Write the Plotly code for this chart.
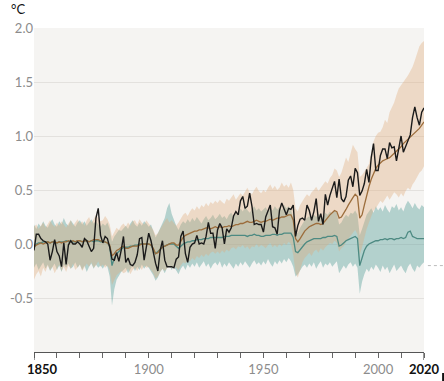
import plotly.graph_objects as go

years = list(range(1850, 2021))

observed = [
    -0.06, 0.09, 0.09, 0.05, 0.03, 0.02, 0.00, -0.15, -0.07, 0.04,
    -0.07, -0.11, -0.21, 0.01, -0.19, -0.01, 0.03, 0.00, 0.00, 0.02,
    0.00, -0.03, 0.05, 0.03, -0.02, -0.07, -0.04, 0.24, 0.33, 0.08,
    0.01, 0.07, 0.05, -0.03, -0.14, -0.15, -0.08, -0.16, -0.06, 0.07,
    -0.17, -0.13, -0.19, -0.20, -0.17, -0.10, 0.05, 0.06, -0.15, -0.03,
    0.10, 0.03, -0.09, -0.18, -0.25, -0.06, 0.03, -0.15, -0.21, -0.21,
    -0.21, -0.22, -0.14, -0.12, 0.07, 0.12, -0.09, -0.17, -0.03, 0.00,
    0.01, 0.08, 0.00, 0.01, 0.00, 0.07, 0.20, 0.10, 0.10, -0.04,
    0.13, 0.19, 0.15, 0.00, 0.14, 0.11, 0.15, 0.26, 0.30, 0.27,
    0.40, 0.44, 0.33, 0.35, 0.47, 0.35, 0.18, 0.19, 0.18, 0.18,
    0.11, 0.25, 0.30, 0.36, 0.16, 0.15, 0.09, 0.31, 0.38, 0.32,
    0.27, 0.33, 0.32, 0.36, 0.07, 0.17, 0.23, 0.24, 0.22, 0.36,
    0.31, 0.22, 0.30, 0.42, 0.21, 0.28, 0.18, 0.46, 0.36, 0.45,
    0.52, 0.58, 0.43, 0.60, 0.42, 0.39, 0.44, 0.59, 0.63, 0.53,
    0.70, 0.66, 0.45, 0.49, 0.56, 0.69, 0.57, 0.80, 0.93, 0.68,
    0.68, 0.82, 0.88, 0.88, 0.79, 0.94, 0.89, 0.90, 0.77, 0.90,
    1.00, 0.85, 0.90, 0.95, 1.01, 1.17, 1.27, 1.17, 1.10, 1.22,
    1.26,
]

sim_human_natural = [
    -0.03, -0.01, 0.00, 0.01, 0.00, 0.01, 0.02, 0.01, 0.02, 0.02,
    0.01, 0.02, 0.01, 0.02, 0.02, 0.03, 0.02, 0.03, 0.02, 0.03,
    0.03, 0.02, 0.03, 0.03, 0.02, 0.03, 0.04, 0.04, 0.04, 0.03,
    0.02, 0.02, 0.01, -0.01, -0.11, -0.09, -0.06, -0.05, -0.03, -0.02,
    -0.04, -0.04, -0.03, -0.02, -0.02, -0.02, -0.01, 0.00, 0.00, 0.00,
    0.00, -0.01, -0.04, -0.09, -0.08, -0.05, -0.03, -0.02, -0.01, 0.00,
    0.01, 0.01, -0.01, -0.01, 0.03, 0.06, 0.08, 0.09, 0.10, 0.11,
    0.12, 0.12, 0.13, 0.13, 0.14, 0.15, 0.15, 0.14, 0.15, 0.16,
    0.15, 0.16, 0.15, 0.16, 0.16, 0.17, 0.16, 0.17, 0.18, 0.18,
    0.19, 0.19, 0.20, 0.21, 0.20, 0.20, 0.21, 0.22, 0.21, 0.20,
    0.21, 0.21, 0.22, 0.23, 0.22, 0.23, 0.24, 0.24, 0.25, 0.25,
    0.26, 0.27, 0.27, 0.22, 0.05, 0.02, 0.05, 0.09, 0.12, 0.14,
    0.16, 0.17, 0.18, 0.19, 0.19, 0.18, 0.19, 0.22, 0.25, 0.27,
    0.29, 0.31, 0.30, 0.24, 0.25, 0.28, 0.32, 0.36, 0.40, 0.43,
    0.46, 0.44, 0.24, 0.27, 0.36, 0.46, 0.53, 0.60, 0.66, 0.70,
    0.73, 0.75, 0.77, 0.78, 0.79, 0.80, 0.82, 0.84, 0.86, 0.88,
    0.90, 0.93, 0.95, 0.97, 0.99, 1.01, 1.03, 1.05, 1.07, 1.10,
    1.13,
]

sim_human_natural_hi = [
    0.16, 0.18, 0.14, 0.17, 0.20, 0.15, 0.19, 0.22, 0.18, 0.16,
    0.20, 0.17, 0.21, 0.18, 0.15, 0.19, 0.22, 0.17, 0.20, 0.23,
    0.19, 0.21, 0.17, 0.22, 0.25, 0.20, 0.23, 0.27, 0.24, 0.21,
    0.22, 0.26, 0.23, 0.18, 0.07, 0.11, 0.15, 0.13, 0.17, 0.19,
    0.16, 0.20, 0.17, 0.21, 0.22, 0.18, 0.23, 0.20, 0.18, 0.22,
    0.19, 0.17, 0.13, 0.08, 0.10, 0.14, 0.18, 0.21, 0.24, 0.20,
    0.22, 0.19, 0.17, 0.20, 0.24, 0.27, 0.29, 0.26, 0.30, 0.33,
    0.31, 0.35, 0.32, 0.36, 0.34, 0.38, 0.35, 0.39, 0.37, 0.40,
    0.38, 0.41, 0.39, 0.37, 0.42, 0.40, 0.43, 0.46, 0.41, 0.44,
    0.47, 0.45, 0.49, 0.52, 0.48, 0.46, 0.50, 0.53, 0.49, 0.47,
    0.50, 0.48, 0.52, 0.55, 0.51, 0.54, 0.50, 0.52, 0.57, 0.53,
    0.55, 0.52, 0.57, 0.50, 0.33, 0.30, 0.36, 0.40, 0.43, 0.46,
    0.44, 0.48, 0.50, 0.53, 0.49, 0.52, 0.55, 0.58, 0.56, 0.61,
    0.64, 0.70, 0.68, 0.62, 0.66, 0.72, 0.80, 0.76, 0.84, 0.92,
    0.88, 0.85, 0.62, 0.64, 0.67, 0.70, 0.74, 0.85, 0.95, 1.00,
    1.03, 1.04, 1.08, 1.15, 1.12, 1.22, 1.26, 1.31, 1.38, 1.44,
    1.47, 1.50, 1.52, 1.56, 1.60, 1.64, 1.70, 1.76, 1.83, 1.86,
    1.88,
]

sim_human_natural_lo = [
    -0.33, -0.28, -0.25, -0.30, -0.22, -0.26, -0.20, -0.24, -0.21, -0.27,
    -0.23, -0.19, -0.25, -0.21, -0.26, -0.20, -0.23, -0.18, -0.24, -0.21,
    -0.19, -0.25, -0.22, -0.18, -0.21, -0.17, -0.22, -0.20, -0.16, -0.21,
    -0.19, -0.22, -0.20, -0.24, -0.38, -0.33, -0.29, -0.27, -0.25, -0.27,
    -0.26, -0.23, -0.28, -0.24, -0.22, -0.25, -0.21, -0.24, -0.20, -0.22,
    -0.21, -0.24, -0.27, -0.32, -0.30, -0.26, -0.23, -0.25, -0.22, -0.20,
    -0.23, -0.21, -0.22, -0.24, -0.20, -0.17, -0.18, -0.15, -0.16, -0.13,
    -0.15, -0.11, -0.13, -0.10, -0.12, -0.09, -0.11, -0.08, -0.07, -0.09,
    -0.07, -0.09, -0.06, -0.08, -0.05, -0.07, -0.04, -0.03, -0.05, -0.02,
    -0.03, -0.01, -0.04, -0.02, -0.05, -0.02, -0.03, 0.00, -0.03, -0.01,
    -0.02, -0.04, -0.01, 0.01, -0.03, -0.01, -0.03, 0.00, -0.02, 0.01,
    -0.01, 0.02, 0.00, -0.10, -0.27, -0.31, -0.24, -0.17, -0.13, -0.10,
    -0.08, -0.11, -0.07, -0.05, -0.08, -0.04, -0.06, -0.03, -0.01, 0.01,
    0.00, 0.03, 0.01, -0.07, -0.04, -0.02, 0.02, 0.05, 0.08, 0.11,
    0.13, 0.09, -0.10, -0.03, 0.07, 0.14, 0.20, 0.26, 0.31, 0.33,
    0.36, 0.40, 0.38, 0.42, 0.45, 0.41, 0.44, 0.48, 0.46, 0.43,
    0.47, 0.44, 0.49, 0.52, 0.50, 0.55, 0.58, 0.62, 0.66, 0.68,
    0.72,
]

sim_natural = [
    -0.02, 0.00, 0.01, 0.01, 0.02, 0.02, 0.02, 0.01, 0.02, 0.02,
    0.01, 0.02, 0.02, 0.02, 0.03, 0.02, 0.03, 0.02, 0.02, 0.03,
    0.03, 0.02, 0.03, 0.03, 0.02, 0.03, 0.02, 0.03, 0.03, 0.02,
    0.02, 0.02, 0.01, -0.02, -0.20, -0.13, -0.09, -0.07, -0.05, -0.03,
    -0.03, -0.03, -0.02, -0.02, -0.01, -0.01, 0.00, 0.00, 0.00, 0.00,
    0.00, -0.01, -0.05, -0.09, -0.07, -0.05, -0.03, -0.02, -0.01, 0.00,
    0.00, 0.00, -0.02, -0.04, -0.02, 0.00, 0.01, 0.02, 0.02, 0.03,
    0.03, 0.04, 0.04, 0.04, 0.05, 0.05, 0.05, 0.06, 0.06, 0.06,
    0.06, 0.06, 0.06, 0.07, 0.07, 0.07, 0.08, 0.08, 0.08, 0.08,
    0.08, 0.08, 0.08, 0.07, 0.08, 0.08, 0.09, 0.08, 0.08, 0.07,
    0.07, 0.08, 0.08, 0.08, 0.09, 0.09, 0.08, 0.09, 0.09, 0.10,
    0.10, 0.10, 0.10, 0.06, -0.07, -0.08, -0.05, -0.02, 0.00, 0.02,
    0.03, 0.04, 0.05, 0.05, 0.05, 0.05, 0.06, 0.06, 0.07, 0.07,
    0.07, 0.08, 0.07, -0.02, -0.01, 0.01, 0.03, 0.04, 0.05, 0.06,
    0.07, 0.05, -0.20, -0.13, -0.06, -0.02, 0.00, 0.01, 0.02, 0.03,
    0.03, 0.04, 0.04, 0.05, 0.04, 0.05, 0.05, 0.04, 0.05, 0.05,
    0.06, 0.05, 0.06, 0.11, 0.12, 0.07, 0.06, 0.05, 0.05, 0.05,
    0.05,
]

sim_natural_hi = [
    0.18, 0.14, 0.19, 0.16, 0.21, 0.17, 0.15, 0.20, 0.23, 0.18,
    0.16, 0.21, 0.18, 0.24, 0.19, 0.17, 0.22, 0.19, 0.16, 0.20,
    0.22, 0.18, 0.21, 0.17, 0.20, 0.23, 0.19, 0.21, 0.18, 0.16,
    0.19, 0.17, 0.20, 0.14, 0.02, 0.07, 0.10, 0.13, 0.12, 0.15,
    0.17, 0.14, 0.19, 0.22, 0.18, 0.16, 0.20, 0.17, 0.21, 0.19,
    0.16, 0.18, 0.12, 0.06, 0.10, 0.15, 0.19, 0.24, 0.33, 0.38,
    0.28, 0.22, 0.17, 0.13, 0.18, 0.21, 0.19, 0.23, 0.20, 0.24,
    0.21, 0.25, 0.22, 0.19, 0.23, 0.26, 0.22, 0.24, 0.27, 0.23,
    0.25, 0.28, 0.24, 0.26, 0.23, 0.27, 0.29, 0.25, 0.28, 0.26,
    0.33, 0.30, 0.34, 0.31, 0.29, 0.32, 0.35, 0.31, 0.33, 0.30,
    0.32, 0.34, 0.30, 0.33, 0.31, 0.35, 0.32, 0.34, 0.31, 0.36,
    0.33, 0.35, 0.32, 0.24, 0.12, 0.10, 0.15, 0.19, 0.22, 0.24,
    0.26, 0.23, 0.27, 0.25, 0.28, 0.26, 0.24, 0.29, 0.27, 0.30,
    0.28, 0.31, 0.29, 0.18, 0.20, 0.24, 0.27, 0.25, 0.29, 0.28,
    0.31, 0.27, 0.08, 0.14, 0.21, 0.27, 0.30, 0.33, 0.29, 0.35,
    0.31, 0.34, 0.30, 0.36, 0.32, 0.29, 0.35, 0.33, 0.37, 0.31,
    0.34, 0.30, 0.36, 0.40, 0.37, 0.33, 0.38, 0.34, 0.32, 0.36,
    0.34,
]

sim_natural_lo = [
    -0.22, -0.18, -0.24, -0.20, -0.17, -0.23, -0.19, -0.25, -0.21, -0.18,
    -0.24, -0.20, -0.26, -0.19, -0.22, -0.18, -0.23, -0.21, -0.17, -0.22,
    -0.19, -0.24, -0.20, -0.26, -0.21, -0.18, -0.23, -0.19, -0.22, -0.20,
    -0.23, -0.19, -0.21, -0.30, -0.57, -0.42, -0.33, -0.29, -0.26, -0.24,
    -0.22, -0.27, -0.23, -0.20, -0.25, -0.21, -0.24, -0.19, -0.23, -0.20,
    -0.22, -0.25, -0.29, -0.34, -0.31, -0.26, -0.23, -0.27, -0.22, -0.20,
    -0.24, -0.21, -0.25, -0.28, -0.23, -0.20, -0.24, -0.19, -0.22, -0.18,
    -0.21, -0.17, -0.22, -0.19, -0.16, -0.21, -0.18, -0.23, -0.19, -0.17,
    -0.20, -0.16, -0.22, -0.18, -0.21, -0.17, -0.20, -0.23, -0.18, -0.21,
    -0.17, -0.20, -0.16, -0.19, -0.22, -0.18, -0.15, -0.19, -0.17, -0.20,
    -0.16, -0.19, -0.14, -0.18, -0.21, -0.16, -0.19, -0.15, -0.18, -0.14,
    -0.17, -0.13, -0.16, -0.21, -0.30, -0.28, -0.24, -0.21, -0.19, -0.22,
    -0.18, -0.21, -0.17, -0.23, -0.19, -0.16, -0.22, -0.18, -0.20, -0.17,
    -0.21, -0.18, -0.16, -0.27, -0.24, -0.20, -0.23, -0.19, -0.17, -0.21,
    -0.18, -0.22, -0.46, -0.35, -0.28, -0.23, -0.26, -0.21, -0.24, -0.19,
    -0.22, -0.26, -0.20, -0.24, -0.21, -0.27, -0.23, -0.19, -0.25, -0.22,
    -0.20, -0.24, -0.27, -0.21, -0.18, -0.23, -0.26, -0.20, -0.22, -0.19,
    -0.17,
]

x_tick_vals = list(range(1850, 2021, 10))
x_tick_text = ["1900" if v == 1900 else "1950" if v == 1950 else "2000" if v == 2000 else "" for v in x_tick_vals]
y_tick_vals = [-0.5, 0.0, 0.5, 1.0, 1.5, 2.0]
y_tick_text = ["-0.5", "0.0", "0.5", "1.0", "1.5", "2.0"]

FONT = "Lato"
GRAY = "#8c8c8c"

fig = go.Figure()

# natural-only range (drawn first)
fig.add_trace(go.Scatter(x=years, y=sim_natural_lo, mode="lines", line=dict(width=0),
                         hoverinfo="skip", showlegend=False))
fig.add_trace(go.Scatter(x=years, y=sim_natural_hi, mode="lines", line=dict(width=0),
                         fill="tonexty", fillcolor="rgba(88,160,154,0.42)",
                         hoverinfo="skip", showlegend=False))
# human + natural range
fig.add_trace(go.Scatter(x=years, y=sim_human_natural_lo, mode="lines", line=dict(width=0),
                         hoverinfo="skip", showlegend=False))
fig.add_trace(go.Scatter(x=years, y=sim_human_natural_hi, mode="lines", line=dict(width=0),
                         fill="tonexty", fillcolor="rgba(224,170,118,0.36)",
                         hoverinfo="skip", showlegend=False))
# means
fig.add_trace(go.Scatter(x=years, y=sim_natural, mode="lines",
                         line=dict(color="#4d8a82", width=1.3), showlegend=False))
fig.add_trace(go.Scatter(x=years, y=sim_human_natural, mode="lines",
                         line=dict(color="#9c6d3c", width=1.3), showlegend=False))
fig.add_trace(go.Scatter(x=years, y=observed, mode="lines",
                         line=dict(color="#1a1a1a", width=1.4), showlegend=False))

fig.update_layout(
    width=444, height=381,
    margin=dict(l=34, r=20, t=28, b=29, autoexpand=False),
    paper_bgcolor="white",
    plot_bgcolor="#f5f4f2",
    font=dict(family=FONT, size=13, color=GRAY),
    xaxis=dict(
        range=[1850, 2020], showgrid=False, zeroline=False, automargin=False,
        showline=True, linecolor="#555555", linewidth=1.2,
        ticks="outside", ticklen=5, tickwidth=1, tickcolor="#666666",
        tickvals=x_tick_vals, ticktext=x_tick_text,
        tickfont=dict(family=FONT, size=13, color=GRAY),
    ),
    yaxis=dict(
        range=[-1.0, 2.0], showgrid=True, gridcolor="#e3e1de", gridwidth=1,
        zeroline=False, showline=False, ticks="", automargin=False,
        tickvals=y_tick_vals, ticktext=y_tick_text,
        tickfont=dict(family=FONT, size=13, color=GRAY),
    ),
    annotations=[
        dict(text="°C", xref="paper", yref="paper", x=-0.041, y=1.059,
             xanchor="center", yanchor="middle", showarrow=False,
             font=dict(family=FONT, size=13, color="#111111")),
        dict(text="<b>1850</b>", xref="x", yref="paper", x=1850, y=-0.0525,
             xanchor="left", yanchor="middle", xshift=-9, showarrow=False,
             font=dict(family=FONT, size=13, color="#111111")),
        dict(text="<b>2020</b>", xref="x", yref="paper", x=2020, y=-0.0525,
             xanchor="center", yanchor="middle", showarrow=False,
             font=dict(family=FONT, size=13, color="#111111")),
    ],
    shapes=[
        dict(type="line", xref="x", yref="paper", x0=1850, x1=1850, y0=0, y1=-0.025,
             line=dict(color="#555555", width=1.2)),
        dict(type="line", xref="x", yref="paper", x0=2020, x1=2020, y0=0, y1=-0.025,
             line=dict(color="#555555", width=1.2)),
        dict(type="line", xref="paper", yref="y", x0=1.01, x1=1.052, y0=-0.2, y1=-0.2,
             line=dict(color="#bbbbbb", width=1, dash="dot")),
        dict(type="line", xref="paper", yref="paper", x0=1.049, x1=1.049, y0=-0.065, y1=-0.095,
             line=dict(color="#111111", width=2)),
    ],
)

fig.write_html("out.html", config={"displayModeBar": False},
               post_script="document.body.style.margin='0px';document.body.style.overflow='hidden';")
